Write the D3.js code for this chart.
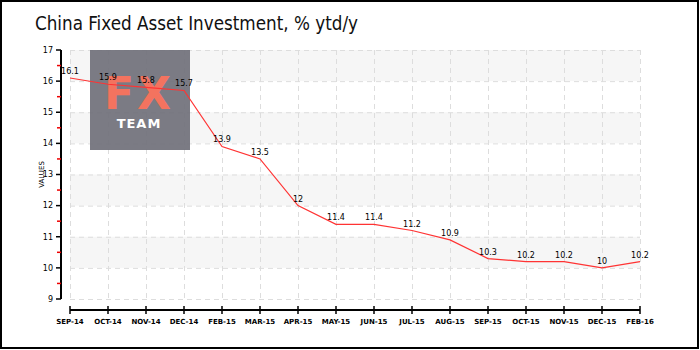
<!DOCTYPE html>
<html>
<head>
<meta charset="utf-8">
<script src="https://cdn.jsdelivr.net/npm/d3@7"></script>
<style>
  html, body { margin: 0; padding: 0; background: #fff; }
  svg { display: block; }
</style>
</head>
<body>
<svg id="chart" width="700" height="350"></svg>
<script>
const months = ["SEP-14","OCT-14","NOV-14","DEC-14","FEB-15","MAR-15","APR-15","MAY-15",
                "JUN-15","JUL-15","AUG-15","SEP-15","OCT-15","NOV-15","DEC-15","FEB-16"];
const values = [16.1, 15.9, 15.8, 15.7, 13.9, 13.5, 12, 11.4, 11.4, 11.2, 10.9, 10.3, 10.2, 10.2, 10, 10.2];
const yTicks = [9, 10, 11, 12, 13, 14, 15, 16, 17];
const titleText = "China Fixed Asset Investment, % ytd/y";

const svg = d3.select("#chart");
const W = 700, H = 350;
const plotL = 70, plotR = 640, plotT = 50, plotB = 299;
const labelFont = "'DejaVu Sans', sans-serif";

// frame
svg.append("rect").attr("x", 1).attr("y", 1).attr("width", W - 3).attr("height", H - 3)
  .attr("fill", "#fff").attr("stroke", "#000").attr("stroke-width", 2);

// title, condensed to the header width
svg.append("text").attr("x", 35).attr("y", 30)
  .attr("font-family", "'DejaVu Sans', sans-serif")
  .attr("font-stretch", "condensed")
  .attr("font-size", 20).attr("fill", "#111")
  .attr("textLength", 323).attr("lengthAdjust", "spacingAndGlyphs")
  .text(titleText);

const x = d3.scalePoint().domain(months).range([plotL, plotR]);
const y = d3.scaleLinear().domain([9, 17]).range([plotB, plotT]);

// alternating bands
const g = svg.append("g");
for (let v = 9; v < 17; v++) {
  if ((17 - v) % 2 === 1) {
    g.append("rect").attr("x", plotL).attr("width", plotR - plotL)
      .attr("y", y(v + 1)).attr("height", y(v) - y(v + 1)).attr("fill", "#f6f6f6");
  }
}

// grid
g.selectAll(".hg").data(yTicks).join("line")
  .attr("x1", plotL).attr("x2", plotR)
  .attr("y1", d => y(d) + 0.5).attr("y2", d => y(d) + 0.5)
  .attr("stroke", "#ddd").attr("stroke-dasharray", "5,4");
g.selectAll(".vg").data(months).join("line")
  .attr("x1", d => x(d) + 0.5).attr("x2", d => x(d) + 0.5)
  .attr("y1", plotT).attr("y2", plotB)
  .attr("stroke", "#ddd").attr("stroke-dasharray", "5,4");

// watermark
const wm = svg.append("g");
wm.append("rect").attr("x", 90).attr("y", 50).attr("width", 100).attr("height", 100)
  .attr("fill", "#70707a").attr("opacity", 0.92);
wm.append("text").attr("x", 139).attr("y", 109).attr("text-anchor", "middle")
  .attr("font-family", "'DejaVu Sans', sans-serif").attr("font-weight", "bold")
  .attr("font-size", 44).attr("fill", "#f3735f").attr("letter-spacing", 3).text("FX");
wm.append("text").attr("x", 139).attr("y", 128).attr("text-anchor", "middle")
  .attr("font-family", "'DejaVu Sans', sans-serif").attr("font-weight", "bold")
  .attr("font-size", 13).attr("fill", "#fff").attr("letter-spacing", 1).text("TEAM");

// y axis
const yAxis = svg.append("g").attr("transform", "translate(61,0)");
yAxis.append("line").attr("x1", 0).attr("x2", 0).attr("y1", y(17)).attr("y2", y(9))
  .attr("stroke", "#000").attr("stroke-width", 2);
const minor = d3.range(9.5, 17, 1);
yAxis.selectAll(".mt").data(minor).join("line")
  .attr("x1", -4).attr("x2", 0).attr("y1", d => y(d)).attr("y2", d => y(d))
  .attr("stroke", "#e00").attr("stroke-width", 1.5);
yAxis.selectAll(".Mt").data(yTicks).join("line")
  .attr("x1", -5).attr("x2", 0).attr("y1", d => y(d)).attr("y2", d => y(d))
  .attr("stroke", "#000").attr("stroke-width", 1.5);
yAxis.selectAll(".yl").data(yTicks).join("text")
  .attr("x", -8).attr("y", d => y(d)).attr("dy", "0.35em").attr("text-anchor", "end")
  .attr("font-family", labelFont).attr("font-size", 8).attr("fill", "#000")
  .text(d => d);
svg.append("text").attr("transform", `translate(44,${(plotT + plotB) / 2}) rotate(-90)`)
  .attr("text-anchor", "middle").attr("font-family", labelFont).attr("font-size", 7)
  .attr("fill", "#000").text("VALUES");

// x axis
const xAxis = svg.append("g").attr("transform", "translate(0,310)");
xAxis.append("line").attr("x1", plotL).attr("x2", plotR).attr("y1", 0).attr("y2", 0)
  .attr("stroke", "#000").attr("stroke-width", 2);
xAxis.selectAll(".xt").data(months).join("line")
  .attr("x1", d => x(d)).attr("x2", d => x(d)).attr("y1", -4).attr("y2", 4)
  .attr("stroke", "#000").attr("stroke-width", 1.5);
xAxis.selectAll(".xl").data(months).join("text")
  .attr("x", d => x(d)).attr("y", 14).attr("text-anchor", "middle")
  .attr("font-family", labelFont).attr("font-size", 7).attr("font-weight", "bold")
  .attr("fill", "#000").text(d => d);

// line
const pts = months.map((m, i) => [x(m), y(values[i])]);
svg.append("path").attr("d", d3.line()(pts))
  .attr("fill", "none").attr("stroke", "#ff3333").attr("stroke-width", 1.2);

// value labels
svg.selectAll(".vl").data(months).join("text")
  .attr("x", d => x(d)).attr("y", (d, i) => y(values[i]) - 4)
  .attr("text-anchor", "middle").attr("font-family", labelFont).attr("font-size", 8)
  .attr("fill", "#000").text((d, i) => values[i]);
</script>
</body>
</html>
